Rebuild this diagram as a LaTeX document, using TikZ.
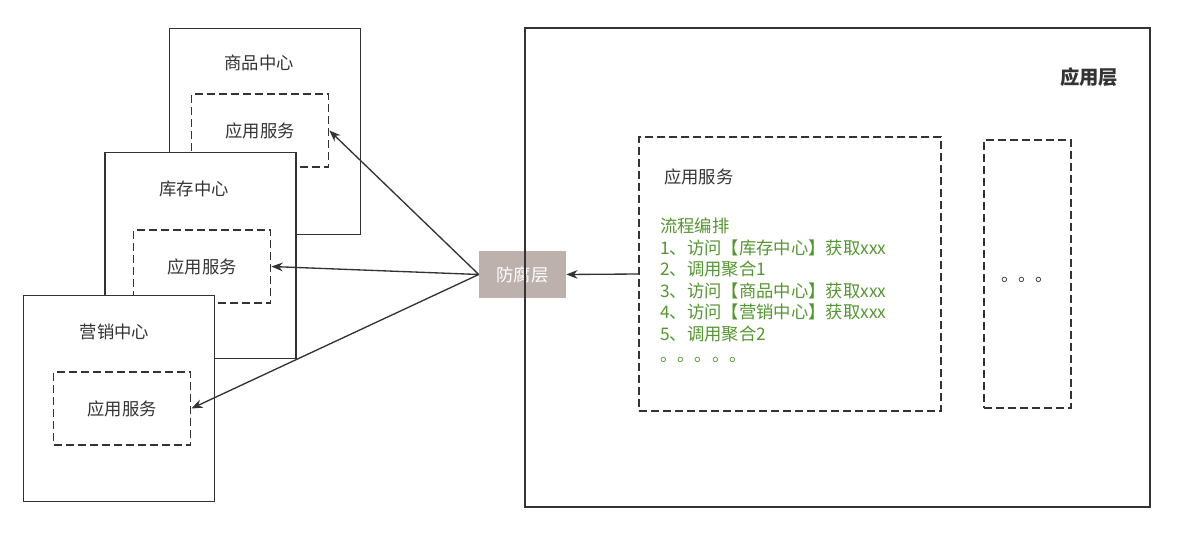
\documentclass[tikz,border=0pt]{standalone}
\usepackage{fontspec}
\setmainfont{Noto Sans CJK SC}
\usepackage{xcolor}
\usetikzlibrary{arrows.meta,positioning}
\definecolor{edgegray}{HTML}{333333}
\definecolor{flowgreen}{RGB}{84,150,48}
\definecolor{aclfill}{RGB}{188,177,173}

\begin{document}
\begin{tikzpicture}[x=0.75pt,y=-0.75pt,font=\fontsize{13}{16.1}\selectfont,
  >={Stealth[length=8.5pt,width=6.5pt]},
  centerbox/.style={draw=edgegray,line width=1.3pt,fill=white,inner sep=0pt,
    minimum width=143.25pt,minimum height=154.5pt},
  svcbox/.style={draw=edgegray,line width=1.3pt,dash pattern=on 6pt off 3pt,
    inner sep=0pt,minimum width=102.75pt,minimum height=54.75pt},
  label/.style={inner sep=0pt,text=edgegray},
  link/.style={->,draw=edgegray,line width=1pt}]
\useasboundingbox (0,0) rectangle (1182,546);

\node[centerbox] (goods) at (265,131.5) {};
\node[svcbox] (goodsSvc) at (260,130.5) {};
\node[label] at (goodsSvc.center) {应用服务};
\node[label] (goodsTitle) at (259,63) {商品中心};

\node[centerbox] (stock) at (200.5,255.5) {};
\node[svcbox] (stockSvc) at (202,266.5) {};
\node[label] at (stockSvc.center) {应用服务};
\node[label] (stockTitle) at (194,189) {库存中心};

\node[centerbox] (market) at (119,398.5) {};
\node[svcbox] (marketSvc) at (122,408.5) {};
\node[label] at (marketSvc.center) {应用服务};
\node[label] (marketTitle) at (114.5,332) {营销中心};

\node[fill=aclfill,text=white,minimum width=65.25pt,minimum height=35.25pt,inner sep=0pt] (acl) at (522.5,274.5) {防腐层};

\node[draw=edgegray,line width=1.3pt,minimum width=468.75pt,minimum height=359.25pt,inner sep=0pt] (app) at (837.5,267.5) {};
\node[label,font=\fontsize{14.5}{17}\selectfont\bfseries] (appTitle) at (1089,77) {应用层};

\node[svcbox,minimum width=226.5pt,minimum height=205.5pt] (flow) at (790,274) {};
\node[label,anchor=west] (flowTitle) at (664,177) {应用服务};
\node[inner sep=0pt,anchor=north west,align=left,text=flowgreen] (steps) at (660,218)
  {流程编排\\1、访问【库存中心】获取xxx\\2、调用聚合1\\3、访问【商品中心】获取xxx\\4、访问【营销中心】获取xxx\\5、调用聚合2\\。。。。。};

\node[svcbox,minimum width=65.25pt,minimum height=201pt] (more) at (1027.5,274) {};
\node[label,anchor=base west] (moreDots) at (1001,281) {。。。};

\draw[link] (acl.west) -- (goodsSvc.east);
\draw[link] (acl.west) -- (stockSvc.east);
\draw[link] (acl.west) -- (marketSvc.east);
\draw[link] (flow.west) -- (acl.east);
\end{tikzpicture}
\end{document}
